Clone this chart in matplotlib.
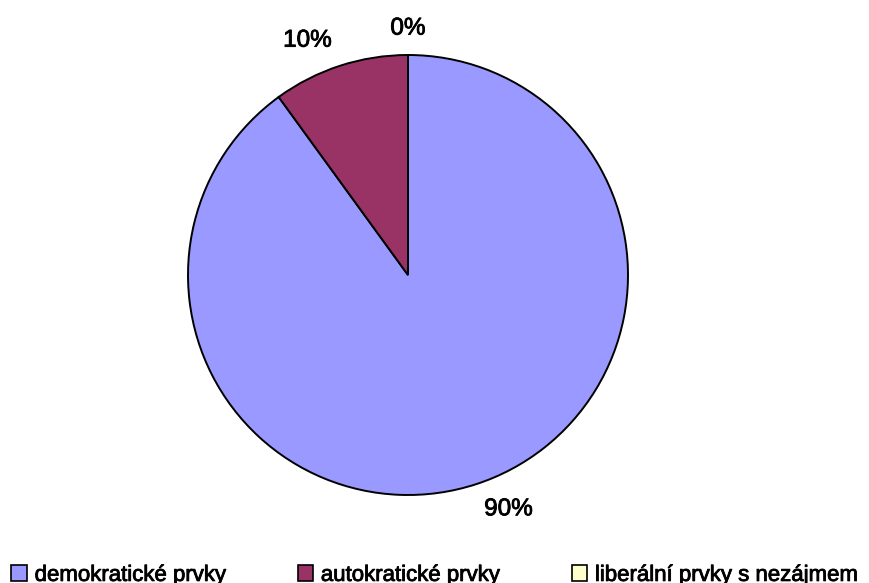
import matplotlib.pyplot as plt
import matplotlib.patheffects as pe
from matplotlib.patches import Patch

plt.rcParams['font.family'] = ['Liberation Sans', 'DejaVu Sans']

# data
categories = ['demokratické prvky', 'autokratické prvky', 'liberální prvky s nezájmem']
values = [90, 10, 0]
colors = ['#9999FF', '#993366', '#FFFFCC']

fig = plt.figure(figsize=(8.7, 5.83), dpi=100)
# square box of 440 px centred at (408, 275) px from the top-left
ax = fig.add_axes([188 / 870, 88 / 583, 440 / 870, 440 / 583])

heavy = [pe.withStroke(linewidth=0.6, foreground='black')]

total = sum(values)
labels = ['%d%%' % round(v * 100 / total) for v in values]
wedges, texts = ax.pie(values, labels=labels, colors=colors, startangle=90,
                       counterclock=False, labeldistance=1.12,
                       wedgeprops=dict(edgecolor='black', linewidth=1.4),
                       textprops=dict(fontsize=17.5, path_effects=heavy))
for t in texts:
    if abs(t.get_position()[0]) < 0.05:
        t.set_ha('center')
ax.set_xlim(-1, 1)
ax.set_ylim(-1, 1)

handles = [Patch(facecolor=c, edgecolor='black', linewidth=1.2) for c in colors]
leg = fig.legend(handles, categories, ncol=3, loc='center left',
                 bbox_to_anchor=(0.013, 0.013), frameon=False, fontsize=16,
                 handlelength=0.7, handleheight=0.7, handletextpad=0.35,
                 columnspacing=3.2, borderpad=0, borderaxespad=0)
for t in leg.get_texts():
    t.set_path_effects(heavy)

fig.savefig('out.png', dpi=100)
